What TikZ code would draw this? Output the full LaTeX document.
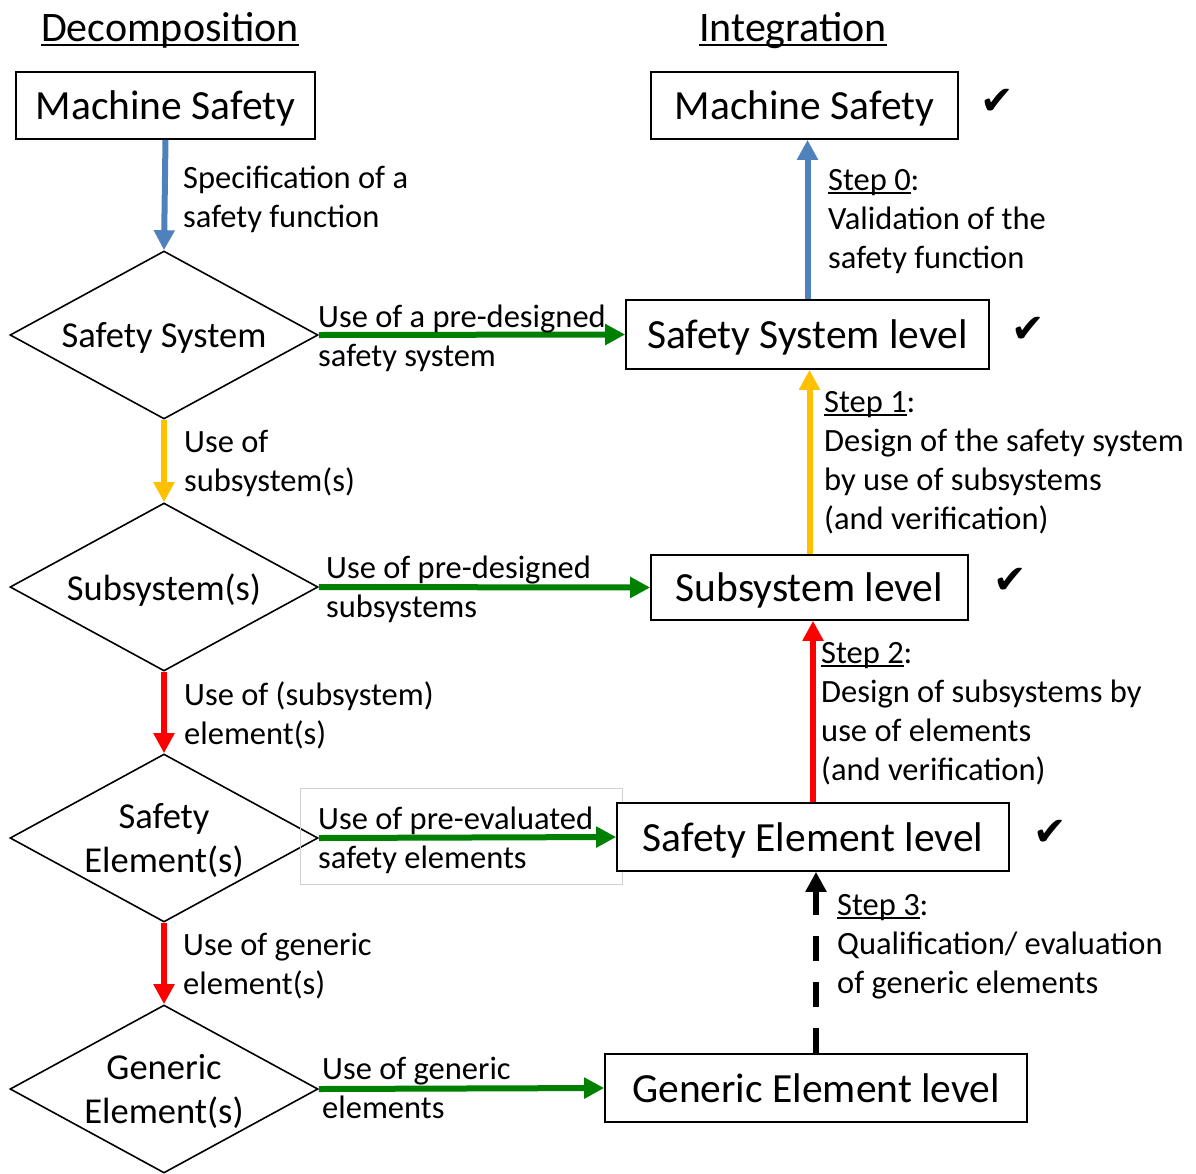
\documentclass[tikz,border=0pt]{standalone}
\usepackage{fontspec}
\setmainfont{Carlito}
\newfontfamily\checkfont{DejaVu Sans}
\usetikzlibrary{arrows.meta,shapes.geometric}

\definecolor{stepblue}{RGB}{79,129,189}
\definecolor{steporange}{RGB}{255,192,0}
\definecolor{stepred}{RGB}{255,0,0}
\definecolor{stepgreen}{RGB}{0,128,0}

\newsavebox\ulnbox
\newcommand{\uln}[1]{\sbox\ulnbox{#1}\rlap{\rule[-0.12em]{\wd\ulnbox}{0.06em}}\usebox\ulnbox}

\tikzset{
    levelbox/.style={draw, line width=1.6pt, fill=white, inner sep=0pt, text depth=0pt, font=\fontsize{41.5}{48}\selectfont},
    choice/.style={diamond, draw, line width=1.6pt, aspect=1.83, minimum width=308pt, minimum height=168pt, inner sep=0pt, text depth=0pt, align=center, font=\fontsize{36.5}{44}\selectfont},
    note/.style={align=left, inner sep=0pt, font=\fontsize{32.5}{39}\selectfont},
    flow/.style={line width=6pt, -{Triangle[length=20pt,width=20pt]}},
    okmark/.style={font=\checkfont\fontsize{40}{40}\selectfont},
    heading/.style={anchor=base, font=\fontsize{42}{50}\selectfont}
}

\begin{document}
\begin{tikzpicture}[x=1pt, y=-1pt]
    \useasboundingbox (0,0) rectangle (1196,1173);

    % headings
    \node[heading] (decomp) at (170,41) {\uln{Decomposition}};
    \node[heading] (integ) at (793,41) {\uln{Integration}};

    % left column
    \node[levelbox, minimum width=299pt, minimum height=67pt] (msleft) at (165.5,105.5) {Machine Safety};
    \node[choice] (safesys) at (164,335) {Safety System};
    \node[choice] (subsys) at (164,587) {Subsystem(s)};
    \node[choice] (safeelem) at (164,838) {Safety\\Element(s)};
    \node[choice] (genelem) at (164,1089) {Generic\\Element(s)};

    % right column
    \node[draw=black!18, line width=1pt, minimum width=322pt, minimum height=96pt] (evalframe) at (461,836) {};
    \node[levelbox, minimum width=307pt, minimum height=67pt] (msright) at (804.5,105.5) {Machine Safety};
    \node[levelbox, minimum width=363pt, minimum height=69pt] (syslevel) at (807.5,334.5) {Safety System level};
    \node[levelbox, minimum width=317pt, minimum height=65pt] (sublevel) at (809.5,587.5) {Subsystem level};
    \node[levelbox, minimum width=392pt, minimum height=68pt] (elemlevel) at (813,837) {Safety Element level};
    \node[levelbox, minimum width=422pt, minimum height=68pt] (genlevel) at (816,1088) {Generic Element level};

    \node[okmark] (ok0) at (997,102) {✔};
    \node[okmark] (ok1) at (1028,330) {✔};
    \node[okmark] (ok2) at (1010,581) {✔};
    \node[okmark] (ok3) at (1050,833) {✔};

    % decomposition arrows
    \draw[flow, stepblue] (msleft.south) -- (safesys.north);
    \draw[flow, steporange] (safesys.south) -- (subsys.north);
    \draw[flow, stepred] (subsys.south) -- (safeelem.north);
    \draw[flow, stepred] (safeelem.south) -- (genelem.north);

    % use of pre-designed parts
    \draw[flow, stepgreen] (safesys.east) -- (syslevel.west);
    \draw[flow, stepgreen] (subsys.east) -- (sublevel.west);
    \draw[flow, stepgreen] (safeelem.east) -- (elemlevel.west);
    \draw[flow, stepgreen] (genelem.east) -- (genlevel.west);

    % integration arrows
    \draw[flow, stepblue] (syslevel.north) -- (syslevel.north |- msright.south);
    \draw[flow, steporange] (sublevel.north) -- (sublevel.north |- syslevel.south);
    \draw[flow, stepred] (elemlevel.north) -- (elemlevel.north |- sublevel.south);
    \draw[flow, black, dash pattern=on 25pt off 21pt] (genlevel.north) -- (genlevel.north |- elemlevel.south);

    % labels
    \node[note, anchor=north west] (specnote) at (183,166) {Specification of a\\safety function};
    \node[note, anchor=north west] (subnote) at (184,430) {Use of\\subsystem(s)};
    \node[note, anchor=north west] (elemnote) at (184,682) {Use of (subsystem)\\element(s)};
    \node[note, anchor=north west] (gennote) at (183,933) {Use of generic\\element(s)};

    \node[note, anchor=west] (sysuse) at (318,338) {Use of a pre-designed\\safety system};
    \node[note, anchor=west] (subuse) at (326,589) {Use of pre-designed\\subsystems};
    \node[note, anchor=west] (elemuse) at (318,840) {Use of pre-evaluated\\safety elements};
    \node[note, anchor=west] (genuse) at (322,1088) {Use of generic\\elements};

    \node[note, anchor=north west] (step0) at (828,169) {\uln{Step 0}:\\Validation of the\\safety function};
    \node[note, anchor=north west] (step1) at (824,391) {\uln{Step 1}:\\Design of the safety system\\by use of subsystems\\(and verification)};
    \node[note, anchor=north west] (step2) at (821,642) {\uln{Step 2}:\\Design of subsystems by\\use of elements\\(and verification)};
    \node[note, anchor=north west] (step3) at (837,894) {\uln{Step 3}:\\Qualification/ evaluation\\of generic elements};
\end{tikzpicture}
\end{document}
